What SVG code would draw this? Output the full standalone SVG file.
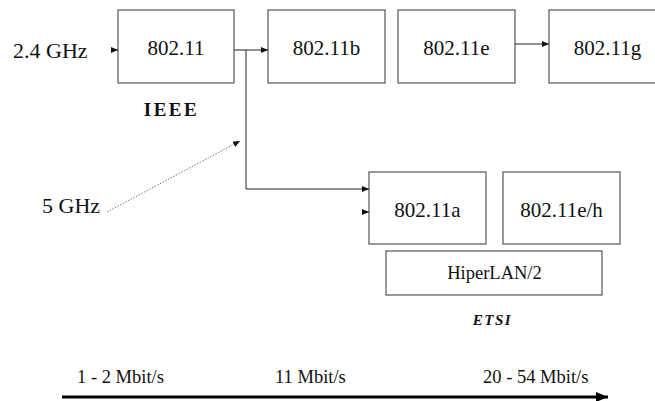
<svg xmlns="http://www.w3.org/2000/svg" width="655" height="401" viewBox="0 0 655 401">
<style>
.box{fill:#fff;stroke:#555;stroke-width:1.2}
text{font-family:'Liberation Serif','Times New Roman',serif;fill:#111}
.lbl{font-size:21px;text-anchor:middle}
.con{fill:none;stroke:#222;stroke-width:1}
</style>
<defs>
<marker id="ah" markerWidth="7" markerHeight="6" refX="7" refY="3" orient="auto" markerUnits="userSpaceOnUse">
<path d="M0,0 L7,3 L0,6 Z" fill="#111"/>
</marker>
<marker id="bh" markerWidth="12" markerHeight="10" refX="12" refY="5" orient="auto" markerUnits="userSpaceOnUse">
<path d="M0,0 L12,5 L0,10 Z" fill="#000"/>
</marker>
</defs>
<rect width="655" height="401" fill="#fff"/>
<g id="n80211"><rect class="box" x="118" y="10" width="116" height="73"/><text class="lbl" x="176" y="55">802.11</text></g>
<g id="n80211b"><rect class="box" x="268" y="10" width="117" height="73"/><text class="lbl" x="326.5" y="55">802.11b</text></g>
<g id="n80211e"><rect class="box" x="398" y="10" width="117" height="73"/><text class="lbl" x="456.5" y="55">802.11e</text></g>
<g id="n80211g"><rect class="box" x="549" y="10" width="117" height="73"/><text class="lbl" x="607.5" y="55">802.11g</text></g>
<g id="n80211a"><rect class="box" x="369" y="172" width="117" height="72"/><text class="lbl" x="427.5" y="217">802.11a</text></g>
<g id="n80211eh"><rect class="box" x="503" y="172" width="117" height="72"/><text class="lbl" x="561.5" y="217">802.11e/h</text></g>
<g id="hiperlan"><rect class="box" x="386" y="251" width="216" height="44"/><text x="494.5" y="279" font-size="18.5" text-anchor="middle">HiperLAN/2</text></g>
<g id="labels">
<text x="13" y="58" font-size="22">2.4 GHz</text>
<text x="42" y="213" font-size="22">5 GHz</text>
<text x="171.5" y="116" font-size="19" font-weight="bold" text-anchor="middle" letter-spacing="2.5">IEEE</text>
<text x="492.5" y="325" font-size="15" font-weight="bold" font-style="italic" text-anchor="middle" letter-spacing="1.5">ETSI</text>
<text x="77" y="383" font-size="18.5">1 - 2 Mbit/s</text>
<text x="275" y="383" font-size="18.5">11 Mbit/s</text>
<text x="483" y="383" font-size="18.5">20 - 54 Mbit/s</text>
</g>
<g id="connectors">
<line class="con" x1="111" y1="50" x2="118" y2="50" marker-end="url(#ah)"/>
<line class="con" x1="234" y1="50" x2="268" y2="50" marker-end="url(#ah)"/>
<polyline class="con" points="246,50 246,189 369,189" marker-end="url(#ah)"/>
<line class="con" x1="362" y1="212" x2="369" y2="212" marker-end="url(#ah)"/>
<line class="con" x1="515" y1="44" x2="549" y2="44" marker-end="url(#ah)"/>
<line x1="107" y1="212" x2="240" y2="141" stroke="#777" stroke-width="1" stroke-dasharray="1.5,1.5" marker-end="url(#ah)"/>
<line x1="62" y1="397" x2="608" y2="397" stroke="#000" stroke-width="3" marker-end="url(#bh)"/>
</g>
</svg>
